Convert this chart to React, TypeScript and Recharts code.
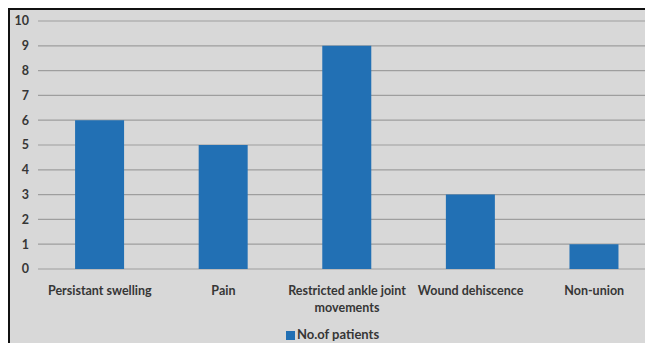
import React from 'react';
import { Bar, BarChart, CartesianGrid, Legend, XAxis, YAxis } from 'recharts';

const categories = ['Persistant swelling', 'Pain', 'Restricted ankle joint movements', 'Wound dehiscence', 'Non-union'];
const patients = [6, 5, 9, 3, 1];
const yTicks = [0, 1, 2, 3, 4, 5, 6, 7, 8, 9, 10];

// the long label breaks after "joint" like in the original
const labelLines: Record<string, string[]> = {
  'Restricted ankle joint movements': ['Restricted ankle joint', 'movements'],
};

const chartData = categories.map((name, i) => ({ name, patients: patients[i] }));

const FONT = 'Lato, "Open Sans", sans-serif';

const CategoryTick = ({ x, y, payload }: { x?: number; y?: number; payload?: { value: string } }) => {
  const value = payload?.value ?? '';
  const lines = labelLines[value] ?? [value];
  return (
    <g transform={`translate(${x},${y})`}>
      {lines.map((line, i) => (
        <text key={i} x={0} y={0} dy={18 + i * 17} textAnchor="middle" fill="#363636" fontSize={12.5} fontWeight={700} fontFamily={FONT}>
          {line}
        </text>
      ))}
    </g>
  );
};

export default function App() {
  // fixed so the cropped frame never makes the page scroll
  return (
    <div
      style={{
        position: 'fixed',
        top: 8,
        left: 8,
        width: 637,
        height: 335,
        overflow: 'hidden',
        background: '#d8d8d8',
        borderTop: '2px solid #111',
        borderLeft: '2px solid #111',
        boxSizing: 'border-box',
      }}
    >
      <BarChart width={646} height={333} data={chartData} margin={{ top: 11, right: 0, left: 0, bottom: 0 }} barCategoryGap="30%">
        <CartesianGrid vertical={false} stroke="#9e9e9e" strokeWidth={1.2} />
        <XAxis dataKey="name" axisLine={false} tickLine={false} interval={0} height={56} tick={<CategoryTick />} />
        <YAxis
          width={28}
          domain={[0, 10]}
          ticks={yTicks}
          interval={0}
          axisLine={false}
          tickLine={false}
          tickMargin={3}
          tick={{ fontSize: 12.5, fill: '#363636', fontWeight: 700, fontFamily: FONT }}
        />
        <Legend
          verticalAlign="bottom"
          iconType="square"
          iconSize={9}
          formatter={(v) => <span style={{ color: '#363636', fontSize: 13, fontWeight: 700, fontFamily: FONT, marginLeft: -2 }}>{v}</span>}
          wrapperStyle={{ left: 9, width: 637 }}
        />
        <Bar dataKey="patients" name="No.of patients" fill="#2270b4" isAnimationActive={false} />
      </BarChart>
    </div>
  );
}
